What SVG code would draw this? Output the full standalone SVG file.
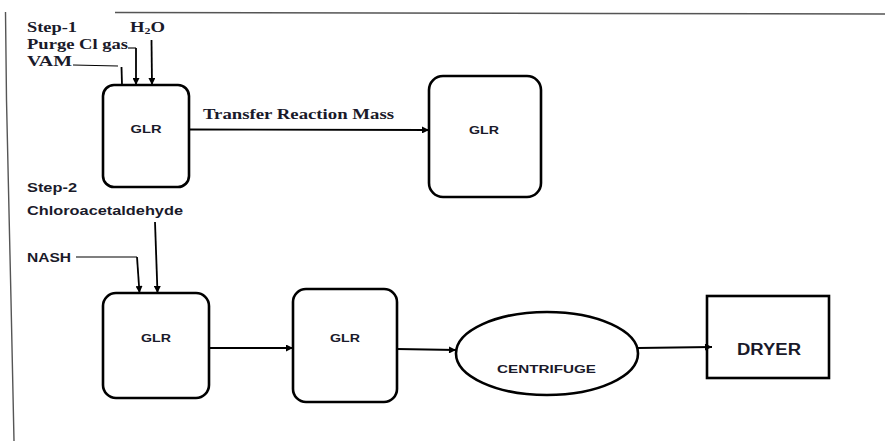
<svg xmlns="http://www.w3.org/2000/svg" width="885" height="441" viewBox="0 0 885 441">
  <defs>
    <marker id="arrow" viewBox="0 0 10 10" refX="10" refY="5" markerWidth="9" markerHeight="7" markerUnits="userSpaceOnUse" orient="auto">
      <path d="M0,0 L10,5 L0,10 z" fill="#000"/>
    </marker>
    <style>
      .vessel { fill: #fff; stroke: #000; stroke-width: 2.6; }
      .flow { fill: none; stroke: #000; stroke-width: 1.8; }
      .feed { fill: none; stroke: #000; stroke-width: 1.1; }
      .frame { fill: none; stroke: #555; stroke-width: 1.4; }
      .serif { font-family: "Liberation Serif", "Times New Roman", serif; font-weight: bold; fill: #1a1a2a; font-size: 14px; }
      .sans { font-family: "Liberation Sans", Arial, sans-serif; font-weight: bold; fill: #1a1a2a; }
      .tag { font-size: 11.5px; text-anchor: middle; }
    </style>
  </defs>

  <!-- page frame edges -->
  <g id="frame">
    <polyline class="frame" points="115,12.5 600,13.5 885,14"/>
    <polyline class="frame" points="5.5,12 6.5,100 11,300 14,441"/>
  </g>

  <!-- step 1 feed labels -->
  <g id="step1-labels">
    <text class="serif" x="27" y="32" textLength="50" lengthAdjust="spacingAndGlyphs">Step-1</text>
    <text class="serif" x="130" y="32" textLength="35" lengthAdjust="spacingAndGlyphs">H<tspan font-size="9" dy="2">2</tspan><tspan dy="-2">O</tspan></text>
    <text class="serif" x="27" y="49" textLength="101" lengthAdjust="spacingAndGlyphs">Purge Cl gas</text>
    <text class="serif" x="27" y="66" textLength="45" lengthAdjust="spacingAndGlyphs">VAM</text>
  </g>

  <!-- step 2 feed labels -->
  <g id="step2-labels">
    <text class="sans" x="27" y="192" font-size="12.5" textLength="50" lengthAdjust="spacingAndGlyphs">Step-2</text>
    <text class="sans" x="27" y="215" font-size="12.5" textLength="156" lengthAdjust="spacingAndGlyphs">Chloroacetaldehyde</text>
    <text class="sans" x="27" y="262" font-size="12.5" textLength="44" lengthAdjust="spacingAndGlyphs">NASH</text>
  </g>

  <g id="glr1">
    <rect class="vessel" x="103" y="85" width="86" height="102" rx="11"/>
    <text class="sans tag" x="146" y="133" textLength="31" lengthAdjust="spacingAndGlyphs">GLR</text>
  </g>

  <g id="glr2">
    <rect class="vessel" x="429" y="76" width="112" height="121" rx="14"/>
    <text class="sans tag" x="484" y="134" textLength="30" lengthAdjust="spacingAndGlyphs">GLR</text>
  </g>

  <g id="glr3">
    <rect class="vessel" x="103" y="293" width="106" height="105" rx="13"/>
    <text class="sans tag" x="156" y="342" textLength="30" lengthAdjust="spacingAndGlyphs">GLR</text>
  </g>

  <g id="glr4">
    <rect class="vessel" x="293" y="289" width="104" height="113" rx="13"/>
    <text class="sans tag" x="345" y="342" textLength="30" lengthAdjust="spacingAndGlyphs">GLR</text>
  </g>

  <g id="centrifuge">
    <ellipse class="vessel" cx="547" cy="353.5" rx="91" ry="41.5"/>
    <text class="sans" x="546.5" y="373" font-size="11.5" text-anchor="middle" textLength="99" lengthAdjust="spacingAndGlyphs">CENTRIFUGE</text>
  </g>

  <g id="dryer">
    <rect class="vessel" x="707" y="296" width="122" height="82"/>
    <text class="sans" x="769" y="354.5" font-size="16" text-anchor="middle" textLength="64" lengthAdjust="spacingAndGlyphs">DRYER</text>
  </g>

  <!-- process lines -->
  <g id="connectors">
    <!-- step 1 feeds -->
    <polyline class="feed" points="73,65 118,66"/>
    <line class="flow" x1="121.5" y1="67" x2="122" y2="85" stroke-width="2.2"/>
    <polyline class="feed" points="128,48 136,48"/>
    <line class="flow" x1="136" y1="48" x2="136" y2="85" stroke-width="2.2" marker-end="url(#arrow)"/>
    <line class="flow" x1="151.5" y1="40" x2="152" y2="85" stroke-width="2.2" marker-end="url(#arrow)"/>

    <!-- transfer of reaction mass -->
    <line class="flow" x1="189" y1="129.5" x2="429" y2="130" marker-end="url(#arrow)"/>
    <text class="serif" x="203" y="119" textLength="191" lengthAdjust="spacingAndGlyphs">Transfer Reaction Mass</text>

    <!-- step 2 feeds -->
    <polyline class="feed" points="76,257 137,257"/>
    <line class="flow" x1="137" y1="257" x2="139.5" y2="293" stroke-width="2.2" marker-end="url(#arrow)"/>
    <line class="flow" x1="155" y1="222" x2="157.5" y2="293" stroke-width="2.2" marker-end="url(#arrow)"/>

    <!-- step 2 train -->
    <line class="flow" x1="209" y1="348" x2="293" y2="348" marker-end="url(#arrow)"/>
    <line class="flow" x1="397" y1="349" x2="456" y2="350" marker-end="url(#arrow)"/>
    <line class="flow" x1="638" y1="348" x2="712" y2="347" marker-end="url(#arrow)"/>
  </g>
</svg>
